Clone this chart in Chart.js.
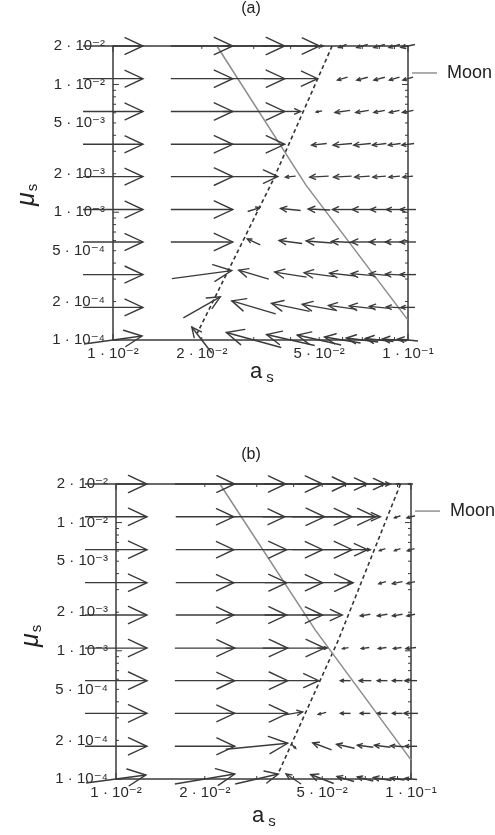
<!DOCTYPE html>
<html><head><meta charset="utf-8">
<script src="https://cdn.jsdelivr.net/npm/chart.js@4/dist/chart.umd.min.js"></script>
<style>
html,body{margin:0;padding:0;background:#fff;width:495px;height:835px;overflow:hidden}
canvas{display:block}
</style></head>
<body>
<canvas id="ca" width="495" height="415" style="width:495px;height:415px"></canvas>
<canvas id="cb" width="495" height="420" style="width:495px;height:420px"></canvas>
<script>
// grid of the vector field
const aValues  = [0.01,0.02,0.03,0.04,0.05,0.06,0.07,0.08,0.09,0.10];
const muValues = [1.0e-4,1.8e-4,3.25e-4,5.85e-4,1.05e-3,1.9e-3,3.4e-3,6.15e-3,1.11e-2,2.0e-2];
// tick values and labels
const xTickValues = [0.01,0.02,0.05,0.1];
const xTickLabels = ['1 · 10⁻²','2 · 10⁻²','5 · 10⁻²','1 · 10⁻¹'];
const yTickValues = [1e-4,2e-4,5e-4,1e-3,2e-3,5e-3,1e-2,2e-2];
const yTickLabels = ['1 · 10⁻⁴','2 · 10⁻⁴','5 · 10⁻⁴','1 · 10⁻³','2 · 10⁻³','5 · 10⁻³','1 · 10⁻²','2 · 10⁻²'];
const moonMu = 0.0123;
const panelTitles = ['(a)','(b)'];

// arrow components (full arrow, in decades of log10 a and log10 mu), rows bottom (mu=1e-4) to top
const duA = [
 [0.197,-0.068,-0.186,-0.163,-0.149,-0.122,-0.108,-0.095,-0.081,-0.068],
 [0.203, 0.125,-0.149,-0.129,-0.115,-0.095,-0.088,-0.068,-0.054,-0.047],
 [0.203, 0.203,-0.102,-0.108,-0.102,-0.088,-0.075,-0.068,-0.061,-0.054],
 [0.203, 0.210,-0.044,-0.078,-0.088,-0.075,-0.075,-0.068,-0.061,-0.054],
 [0.203, 0.210, 0.041,-0.068,-0.075,-0.068,-0.068,-0.061,-0.054,-0.054],
 [0.203, 0.210, 0.163,-0.034,-0.064,-0.061,-0.051,-0.044,-0.037,-0.034],
 [0.203, 0.210, 0.210, 0.000,-0.051,-0.064,-0.058,-0.047,-0.041,-0.041],
 [0.203, 0.210, 0.210, 0.068,-0.020,-0.051,-0.044,-0.037,-0.034,-0.037],
 [0.203, 0.210, 0.210, 0.183, 0.000,-0.034,-0.037,-0.037,-0.034,-0.034],
 [0.203, 0.210, 0.210, 0.197, 0.027,-0.027,-0.037,-0.037,-0.037,-0.047]
];
const dvA = [
 [0.063,0.203,0.117,0.086,0.078,0.047,0.031,0.023,0.016,0.016],
 [0,0.164,0.102,0.063,0.047,0.031,0.023,0.016,0.008,0],
 [0,0.063,0.070,0.039,0.031,0.023,0.016,0.016,0.008,0],
 [0,0,0.047,0.023,0.016,0.008,0,0,0,0],
 [0,0,0.031,0.016,0.008,0,0,0,0,0],
 [0,0,0,-0.008,-0.008,-0.008,-0.008,-0.008,-0.008,-0.008],
 [0,0,0,0,-0.012,-0.012,-0.012,-0.012,-0.012,-0.012],
 [0,0,0,0,-0.008,-0.016,-0.016,-0.016,-0.016,-0.016],
 [0,0,0,0,0,-0.023,-0.023,-0.023,-0.023,-0.023],
 [0,0,0,0,0,-0.023,-0.023,-0.023,-0.023,-0.023]
];
const duB = [
 [0.203,0.203,0.146,-0.051,-0.078,-0.058,-0.054,-0.061,-0.047,-0.041],
 [0.210,0.203,0.210, 0.014,-0.064,-0.061,-0.054,-0.054,-0.047,-0.041],
 [0.210,0.203,0.210, 0.061,-0.027,-0.034,-0.034,-0.034,-0.034,-0.047],
 [0.210,0.203,0.210, 0.170, 0.000,-0.034,-0.041,-0.034,-0.034,-0.041],
 [0.210,0.203,0.210, 0.210, 0.034,-0.020,-0.027,-0.027,-0.027,-0.034],
 [0.210,0.197,0.203, 0.197, 0.136, 0.000,-0.034,-0.034,-0.034,-0.027],
 [0.210,0.197,0.203, 0.197, 0.210, 0.041, 0.000,-0.024,-0.034,-0.027],
 [0.210,0.197,0.203, 0.197, 0.203, 0.149, 0.034,-0.020,-0.020,-0.024],
 [0.210,0.197,0.190, 0.210, 0.203, 0.203, 0.102, 0.000,-0.020,-0.027],
 [0.210,0.203,0.197, 0.197, 0.170, 0.149, 0.136, 0.054, 0.014,-0.014]
];
const dvB = [
 [0.063,0.078,0.078,0.078,0.070,0.039,0.031,0.023,0.016,0.008],
 [0,0,0.047,-0.031,0.055,0.031,0.016,0.016,0.008,0],
 [0,0,0,0.023,-0.016,0,0,0,0,0],
 [0,0,0,0,0,0,0,0,0,0],
 [0,0,0,0,0,-0.008,-0.008,-0.008,-0.008,-0.008],
 [0,0,0,0,0,0,-0.012,-0.012,-0.012,-0.012],
 [0,0,0,0,0,0,0,-0.016,-0.016,-0.016],
 [0,0,0,0,0,0,0,-0.016,-0.016,-0.016],
 [0,0,0,0,0,0,0,0,-0.016,-0.016],
 [0,0,0,0,0,0,0,0,0,0]
];
// curves
const solidA  = [{x:0.0225,y:2e-2},{x:0.0451,y:1.63e-3},{x:0.1,y:1.43e-4}];
const dashedA = [{x:0.0553,y:2e-2},{x:0.0349,y:1.79e-3},{x:0.0193,y:1.13e-4}];
const solidB  = [{x:0.0225,y:2e-2},{x:0.0474,y:1.45e-3},{x:0.1,y:1.41e-4}];
const dashedB = [{x:0.0921,y:2e-2},{x:0.0567,y:1.21e-3},{x:0.0355,y:1.11e-4}];

const FONT = '"Liberation Sans","DejaVu Sans",Arial,sans-serif';
const INK = '#3a3a3a';

function buildDatasets(du, dv, solid, dashed){
  const ds = [];
  for (let k=0;k<muValues.length;k++){
    for (let j=0;j<aValues.length;j++){
      const U = du[k][j], V = dv[k][j];
      if (U===0 && V===0) continue;
      const x = aValues[j], y = muValues[k];
      ds.push({
        data:[{x:x*Math.pow(10,-U/2), y:y*Math.pow(10,-V/2)},{x:x*Math.pow(10,U/2), y:y*Math.pow(10,V/2)}],
        showLine:true, borderColor:INK, borderWidth:1.4, pointRadius:0, clip:false, isArrow:true
      });
    }
  }
  ds.push({data:solid, showLine:true, borderColor:'#8c8c8c', borderWidth:1.5, pointRadius:0, clip:false});
  ds.push({data:dashed, showLine:true, borderColor:'#333', borderWidth:1.6, borderDash:[4,3], pointRadius:0, clip:false});
  return ds;
}

const arrowPlugin = {
  id:'arrowheads',
  afterDatasetsDraw(chart){
    const ctx = chart.ctx;
    ctx.save();
    ctx.strokeStyle = INK; ctx.lineWidth = 1.4; ctx.lineCap='round';
    chart.data.datasets.forEach((d,i)=>{
      if (!d.isArrow) return;
      const m = chart.getDatasetMeta(i);
      const p0 = m.data[0], p1 = m.data[1];
      const dx = p1.x-p0.x, dy = p1.y-p0.y;
      const len = Math.hypot(dx,dy);
      if (len < 0.5) return;
      const ang = Math.atan2(dy,dx);
      const b = Math.min(0.33*len, 21);
      const w = 25*Math.PI/180;
      ctx.beginPath();
      ctx.moveTo(p1.x - b*Math.cos(ang-w), p1.y - b*Math.sin(ang-w));
      ctx.lineTo(p1.x, p1.y);
      ctx.lineTo(p1.x - b*Math.cos(ang+w), p1.y - b*Math.sin(ang+w));
      ctx.stroke();
    });
    ctx.restore();
  }
};

const framePlugin = {
  id:'frame',
  beforeDatasetsDraw(chart){
    const {ctx, chartArea:a, scales:{x,y}} = chart;
    ctx.save();
    ctx.strokeStyle = INK; ctx.lineWidth = 1.5;
    ctx.strokeRect(a.left, a.top, a.right-a.left, a.bottom-a.top);
    ctx.lineWidth = 1;
    ctx.beginPath();
    for (let n=-2;n<=-1;n++) for (let m=1;m<=9;m++){
      const v = m*Math.pow(10,n);
      if (v < 0.01-1e-12 || v > 0.1+1e-12) continue;
      const px = x.getPixelForValue(v); const L = m===1?6:3;
      ctx.moveTo(px,a.bottom); ctx.lineTo(px,a.bottom-L);
      ctx.moveTo(px,a.top); ctx.lineTo(px,a.top+L);
    }
    for (let n=-4;n<=-2;n++) for (let m=1;m<=9;m++){
      const v = m*Math.pow(10,n);
      if (v < 1e-4-1e-15 || v > 2e-2+1e-12) continue;
      const py = y.getPixelForValue(v); const L = m===1?6:3;
      ctx.moveTo(a.left,py); ctx.lineTo(a.left+L,py);
      ctx.moveTo(a.right,py); ctx.lineTo(a.right-L,py);
    }
    ctx.stroke();
    ctx.restore();
  }
};

function textPlugin(title, titleY, xt, yt){
  return {
    id:'texts',
    afterDraw(chart){
      const {ctx, chartArea:a, scales:{y}} = chart;
      ctx.save();
      ctx.fillStyle = '#222';
      // panel title
      ctx.font = '16px '+FONT; ctx.textAlign='center'; ctx.textBaseline='middle';
      ctx.fillText(title, 251, titleY);
      // x axis title a_s
      ctx.textAlign='left'; ctx.textBaseline='alphabetic';
      ctx.font = '22px '+FONT;
      ctx.fillText('a', xt.x, xt.y);
      const wa = ctx.measureText('a').width;
      ctx.font = '15px '+FONT;
      ctx.fillText('s', xt.x+wa+4, xt.y+4);
      // y axis title mu_s
      ctx.translate(yt.x, yt.y); ctx.rotate(-Math.PI/2);
      ctx.font = 'italic 25px "Liberation Sans","DejaVu Sans",sans-serif';
      ctx.fillText('μ', -14, 0);
      const wm = ctx.measureText('μ').width;
      ctx.font = '15px '+FONT;
      ctx.fillText('s', -14+wm+1, 3);
      ctx.setTransform(1,0,0,1,0,0);
      // Moon marker
      const my = y.getPixelForValue(moonMu);
      ctx.strokeStyle = '#777'; ctx.lineWidth = 1.2;
      ctx.beginPath(); ctx.moveTo(a.right+4, my); ctx.lineTo(a.right+29, my); ctx.stroke();
      ctx.fillStyle = '#222';
      ctx.font = '18px '+FONT; ctx.textAlign='left'; ctx.textBaseline='middle';
      ctx.fillText('Moon', a.right+39, my);
      ctx.restore();
    }
  };
}

function makeChart(id, du, dv, solid, dashed, pad, yWidth, title, titleY, xt, yt){
  return new Chart(document.getElementById(id), {
    type:'scatter',
    data:{datasets:buildDatasets(du,dv,solid,dashed)},
    options:{
      responsive:false, animation:false, devicePixelRatio:1,
      layout:{padding:pad},
      plugins:{legend:{display:false}, tooltip:{enabled:false}, title:{display:false}},
      elements:{line:{tension:0}},
      scales:{
        x:{type:'logarithmic', min:0.01, max:0.1, position:'bottom',
           afterBuildTicks:s=>{s.ticks = xTickValues.map(v=>({value:v}));},
           afterFit:s=>{s.height = 30;},
           grid:{display:false, drawTicks:false}, border:{display:false},
           ticks:{autoSkip:false, maxRotation:0, minRotation:0, padding:5, color:'#2a2a2a',
                  font:{family:FONT, size:15},
                  callback:(v,i)=>xTickLabels[i]}},
        y:{type:'logarithmic', min:1e-4, max:2e-2, position:'left',
           afterBuildTicks:s=>{s.ticks = yTickValues.map(v=>({value:v}));},
           afterFit:s=>{s.width = yWidth;},
           grid:{display:false, drawTicks:false}, border:{display:false},
           ticks:{autoSkip:false, padding:8, color:'#2a2a2a',
                  font:{family:FONT, size:15},
                  callback:(v,i)=>yTickLabels[i]}}
      }
    },
    plugins:[framePlugin, arrowPlugin, textPlugin(title, titleY, xt, yt)]
  });
}

makeChart('ca', duA, dvA, solidA, dashedA, {left:0,right:87,top:46,bottom:45}, 113,
          panelTitles[0], 9, {x:250,y:378}, {x:34,y:192});
makeChart('cb', duB, dvB, solidB, dashedB, {left:0,right:84,top:69,bottom:26}, 116,
          panelTitles[1], 40, {x:252,y:407}, {x:38,y:218});
</script>
</body></html>
